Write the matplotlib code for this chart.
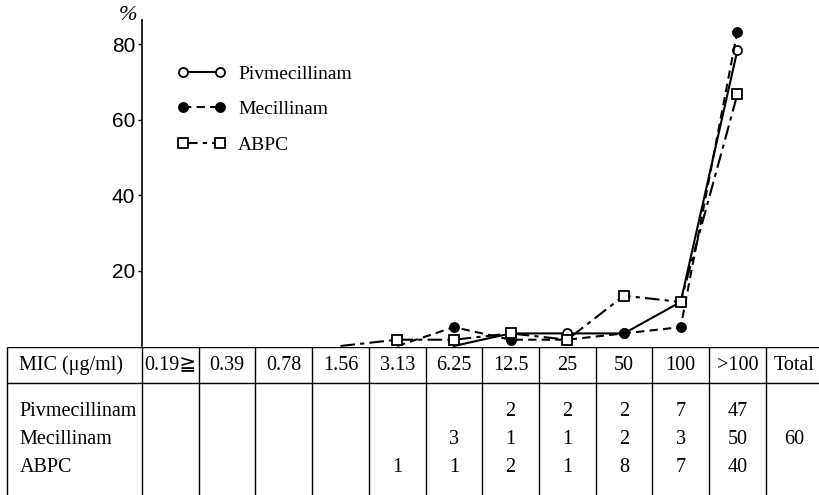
# MIC distribution chart with the count table under it

import matplotlib.pyplot as plt
import numpy as np

mic = ["0.19≧", "0.39", "0.78", "1.56", "3.13", "6.25", "12.5", "25", "50", "100", ">100"]
drugs = ["Pivmecillinam", "Mecillinam", "ABPC"]
piv = [0, 0, 0, 0, 0, 0, 2, 2, 2, 7, 47]
mec = [0, 0, 0, 0, 0, 3, 1, 1, 2, 3, 50]
abpc = [0, 0, 0, 0, 1, 1, 2, 1, 8, 7, 40]
total = 60
yticks = [20, 40, 60, 80]

counts = [piv, mec, abpc]
styles = [dict(ls="-", marker="o", mfc="white", ms=6.5),
          dict(ls=(0, (4, 2.5)), marker="o", mfc="black", ms=6.5),
          dict(ls=(0, (7, 2.5, 2, 2.5)), marker="s", mfc="white", ms=7.5)]

serif = ["Liberation Serif", "DejaVu Serif", "DejaVu Sans"]

W, H = 819, 495
colw = 56.7
xl = (-0.5 - 142 / colw, -0.5 + (W - 142) / colw)

fig = plt.figure(figsize=(W / 100, H / 100), dpi=100)

# 그래프 부분
ax = fig.add_axes([0, 149 / H, 1, (346 - 20) / H])
ax.set_xlim(*xl)
ax.set_ylim(0, 86.4)
for s in ["top", "right", "bottom"]:
    ax.spines[s].set_visible(False)
ax.spines["left"].set_position(("data", -0.5))
ax.spines["left"].set_linewidth(1.2)
ax.set_xticks([])
ax.set_yticks(yticks)
ax.tick_params(axis="y", length=3, width=1, pad=2, labelsize=15)
for t in ax.get_yticklabels():
    t.set_family("Liberation Sans")

x = np.arange(len(mic))
for name, c, st in zip(drugs, counts, styles):
    pct = np.array(c) / total * 100
    first = int(np.nonzero(pct)[0][0])
    xs = x[first - 1:]
    ys = pct[first - 1:]
    ax.plot(xs, ys, color="black", lw=1.5, mec="black", mew=1.3,
            markevery=list(range(1, len(xs))), label=name, clip_on=False, **st)

leg = ax.legend(loc="upper left", bbox_to_anchor=(0.205, 0.892), frameon=False,
                numpoints=2, handlelength=2.5, handletextpad=0.6, labelspacing=0.93,
                borderpad=0, prop={"family": serif, "size": 14})

fig.text(128 / W, 1 - 15 / H, "%", ha="center", va="center", fontsize=16,
         family=serif, style="italic")

# 표 부분
tb = fig.add_axes([0, 0, 1, 148 / H])
tb.set_xlim(*xl)
tb.set_ylim(148, 0)
tb.axis("off")
left = -0.5 - (142 - 7) / colw
tb.hlines([0, 36], left, xl[1], color="black", lw=1)
tb.vlines([left] + [i - 0.5 for i in range(len(mic) + 1)], 0, 148, color="black", lw=1)

fs = 14.5
tb.text(left + 0.22, 18, "MIC (μg/ml)", ha="left", va="center", fontsize=fs, family=serif)
for i, m in enumerate(mic):
    tb.text(i, 18, m, ha="center", va="center", fontsize=fs, family=serif)
tb.text(11, 18, "Total", ha="center", va="center", fontsize=fs, family=serif)

rows_y = [64, 93, 120]
for name, c, ry in zip(drugs, counts, rows_y):
    tb.text(left + 0.22, ry, name, ha="left", va="center", fontsize=fs, family=serif)
    for i, v in enumerate(c):
        if v:
            tb.text(i, ry, str(v), ha="center", va="center", fontsize=fs, family=serif)
tb.text(11, rows_y[1], str(total), ha="center", va="center", fontsize=fs, family=serif)

fig.savefig("out.png", dpi=100)
